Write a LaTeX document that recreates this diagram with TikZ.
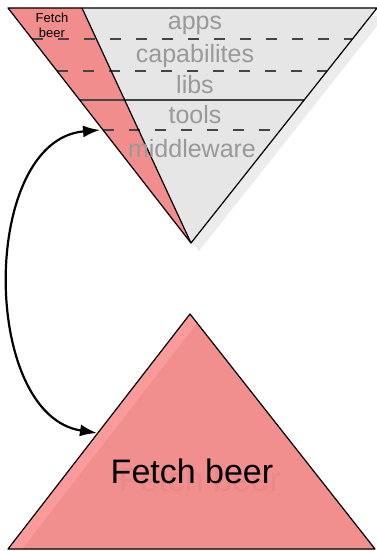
\documentclass[tikz,border=0pt]{standalone}
\usepackage{fontspec}
\setmainfont{Liberation Sans}
\usetikzlibrary{arrows.meta,calc}

\definecolor{beerred}{HTML}{F28D8D}
\definecolor{beerlight}{HTML}{F99B9B}
\definecolor{beershade}{HTML}{F18F8F}
\definecolor{beerghost}{HTML}{E88888}
\definecolor{layerfill}{HTML}{E6E6E6}
\definecolor{layershadow}{HTML}{ECECEC}
\definecolor{layertext}{HTML}{999999}
\definecolor{divider}{HTML}{444444}

\begin{document}
\begin{tikzpicture}[x=1pt, y=-1pt,
  edge/.style={draw=black, line width=1.2pt, line join=round},
  layer/.style={text=layertext, anchor=base, inner sep=0pt, font=\fontsize{25}{28}\selectfont},
  dashline/.style={draw=divider, line width=1.4pt, dash pattern=on 11pt off 15pt},
  solidline/.style={draw=divider, line width=2pt},
  bigtext/.style={anchor=base, inner sep=0pt, font=\fontsize{34}{38}\selectfont},
  link/.style={line width=2.2pt, {Latex[length=17pt,width=12pt]}-{Latex[length=17pt,width=12pt]}}]
  \useasboundingbox (0,0) rectangle (377,551);

  \coordinate (topleft) at (8,8);
  \coordinate (topsplit) at (82,8);
  \coordinate (topright) at (377,8);
  \coordinate (toptip) at (191,243);

  \fill[layershadow] ([shift={(8,8)}]topleft) -- ([shift={(8,8)}]topright) -- ([shift={(8,8)}]toptip) -- cycle;
  \fill[layerfill] (topsplit) -- (topright) -- (toptip) -- cycle;
  \fill[beerred] (topleft) -- (topsplit) -- (toptip) -- cycle;

  \draw[dashline] ($(topleft)!0.132!(toptip)$) -- ($(topright)!0.132!(toptip)$);
  \draw[dashline] ($(topleft)!0.268!(toptip)$) -- ($(topright)!0.268!(toptip)$);
  \draw[solidline] ($(topleft)!0.391!(toptip)$) -- ($(topright)!0.391!(toptip)$);
  \draw[dashline] ($(topleft)!0.519!(toptip)$) -- ($(topright)!0.519!(toptip)$);

  \draw[edge] (topleft) -- (topright) -- (toptip) -- cycle;
  \draw[edge] (topsplit) -- (toptip);

  \node[layer] (apps) at (195,30) {apps};
  \node[layer] (capabilites) at (195,63) {capabilites};
  \node[layer] (libs) at (195,93) {libs};
  \node[layer] (tools) at (195,123) {tools};
  \node[layer] (middleware) at (192,157) {middleware};
  \node[align=center, inner sep=0pt, font=\fontsize{13}{15}\selectfont] (fetchsmall) at (52,25) {Fetch\\beer};

  \coordinate (beertop) at (190,314);
  \coordinate (beerleft) at (8,549);
  \coordinate (beerright) at (375,549);

  \fill[beerlight] (beertop) -- (beerleft) -- (beerright) -- cycle;
  \begin{scope}
    \clip (beertop) -- (beerleft) -- (beerright) -- cycle;
    \fill[beershade] ([shift={(8,8)}]beertop) -- ([shift={(8,8)}]beerleft) -- ([shift={(8,8)}]beerright) -- cycle;
    \node[bigtext, text=beerghost] (ghost) at (200,491) {Fetch beer};
  \end{scope}
  \draw[edge] (beertop) -- (beerleft) -- (beerright) -- cycle;
  \node[bigtext] (fetchbeer) at (192,483) {Fetch beer};

  \coordinate (toolsend) at (100,130);
  \coordinate (beerend) at (97,433);
  \draw[link] (toolsend) .. controls (-20,140) and (-20,415) .. (beerend);
\end{tikzpicture}
\end{document}
